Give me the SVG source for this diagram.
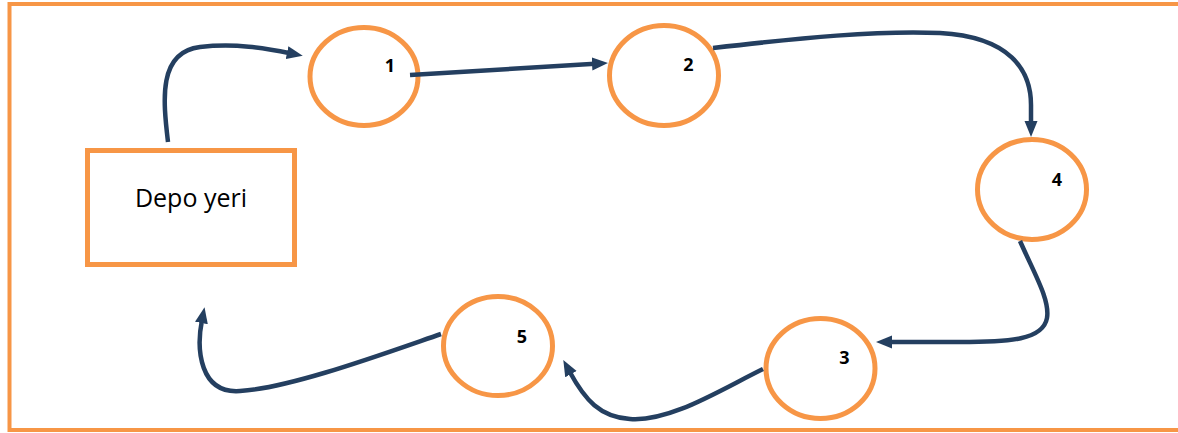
<svg xmlns="http://www.w3.org/2000/svg" width="1178" height="433" viewBox="0 0 1178 433">
<style>
.frame{fill:none;stroke:#F79646;stroke-width:4}
.node{fill:#FFFFFF;stroke:#F79646;stroke-width:5}
.lbl{font-family:"Open Sans","Liberation Sans",sans-serif;font-weight:bold;font-size:18px;fill:#000;text-anchor:middle}
.main{font-family:"Open Sans","Liberation Sans",sans-serif;font-size:25px;fill:#000;text-anchor:middle}
.conn{fill:none;stroke:#243F60;stroke-width:4.5;marker-end:url(#ah)}
</style>
<defs>
<marker id="ah" markerUnits="userSpaceOnUse" markerWidth="18" markerHeight="14" refX="3" refY="6.5" orient="auto">
<path d="M0,0 L16,6.5 L0,13 z" fill="#243F60"/>
</marker>
</defs>
<rect class="frame" x="9.5" y="4" width="1175" height="426"/>
<g id="depo">
<rect class="node" x="87.5" y="150.5" width="207" height="114"/>
<text class="main" x="191" y="207">Depo yeri</text>
</g>
<g id="n1">
<ellipse class="node" cx="364" cy="76.5" rx="54" ry="49"/>
<text class="lbl" x="390" y="72">1</text>
</g>
<g id="n2">
<ellipse class="node" cx="664" cy="75.5" rx="54.5" ry="50"/>
<text class="lbl" x="688.5" y="71">2</text>
</g>
<g id="n4">
<ellipse class="node" cx="1032" cy="189.5" rx="54.5" ry="50"/>
<text class="lbl" x="1057" y="186">4</text>
</g>
<g id="n3">
<ellipse class="node" cx="820.5" cy="368.5" rx="54.5" ry="50"/>
<text class="lbl" x="844.5" y="364">3</text>
</g>
<g id="n5">
<ellipse class="node" cx="498" cy="346" rx="54.5" ry="49.5"/>
<text class="lbl" x="522" y="343">5</text>
</g>
<g id="connectors">
<path class="conn" d="M168,142 C163,100 158,52 200,47 C235,43 265,48 290,53.2"/>
<path class="conn" d="M410,75 L595,63.8"/>
<path class="conn" d="M713,48 C800,38 880,30 940,33 C1010,37 1031,70 1031,105 L1031,124"/>
<path class="conn" d="M1020,241 C1035,275 1050,300 1047,318 C1043,340 1010,342 960,342 L889,342"/>
<path class="conn" d="M763,369 C720,390 670,422 630,419 C600,417 585,400 569.5,371.5"/>
<path class="conn" d="M441,334 C380,355 290,388 240,391 C200,394 196,350 202,320"/>
</g>
</svg>
